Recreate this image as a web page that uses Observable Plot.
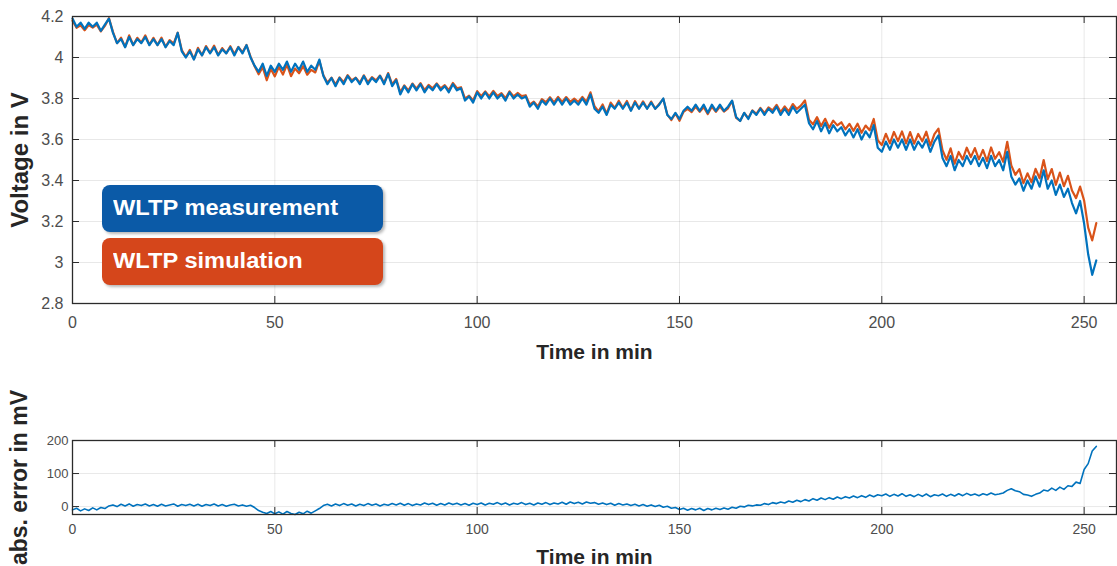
<!DOCTYPE html>
<html>
<head>
<meta charset="utf-8">
<script src="https://cdn.jsdelivr.net/npm/d3@7"></script>
<script src="https://cdn.jsdelivr.net/npm/@observablehq/plot@0.6"></script>
<style>
  html, body { margin: 0; padding: 0; background: #fff; }
  #wrap { position: relative; width: 1117px; height: 566px; overflow: hidden; font-family: "Liberation Sans", Arial, sans-serif; }
  #wrap svg { display: block; overflow: visible; }
  g[aria-label="x-axis label"] text, g[aria-label="y-axis label"] text { font-weight: bold; fill: #262626; }
  .leg { position: absolute; left: 102px; width: 281px; border-radius: 8px; color: #fff; font-weight: bold; font-size: 21.5px; box-sizing: border-box; padding-left: 11px; box-shadow: 2px 2px 3px rgba(0,0,0,0.28); }
  .leg span { display: inline-block; transform: scaleX(1.1); transform-origin: left center; }
</style>
</head>
<body>
<div id="wrap">
  <div id="chartTop"></div>
  <div id="chartBottom"></div>
  <div class="leg" style="top:185px;height:47px;line-height:47px;background:#0b5aa7;"><span>WLTP measurement</span></div>
  <div class="leg" style="top:238px;height:47px;line-height:47px;background:#d5461b;"><span>WLTP simulation</span></div>
</div>
<script>
// Time in min
const time = [
  0,1,2,3,4,5,6,7,8,9,10,11,12,13,14,15,16,17,18,19,
  20,21,22,23,24,25,26,27,28,29,30,31,32,33,34,35,36,37,38,39,
  40,41,42,43,44,45,46,47,48,49,50,51,52,53,54,55,56,57,58,59,
  60,61,62,63,64,65,66,67,68,69,70,71,72,73,74,75,76,77,78,79,
  80,81,82,83,84,85,86,87,88,89,90,91,92,93,94,95,96,97,98,99,
  100,101,102,103,104,105,106,107,108,109,110,111,112,113,114,115,116,117,118,119,
  120,121,122,123,124,125,126,127,128,129,130,131,132,133,134,135,136,137,138,139,
  140,141,142,143,144,145,146,147,148,149,150,151,152,153,154,155,156,157,158,159,
  160,161,162,163,164,165,166,167,168,169,170,171,172,173,174,175,176,177,178,179,
  180,181,182,183,184,185,186,187,188,189,190,191,192,193,194,195,196,197,198,199,
  200,201,202,203,204,205,206,207,208,209,210,211,212,213,214,215,216,217,218,219,
  220,221,222,223,224,225,226,227,228,229,230,231,232,233,234,235,236,237,238,239,
  240,241,242,243,244,245,246,247,248,249,250,251,252,253
];
// WLTP measurement, voltage in V
const measurement = [
  4.19,4.15,4.17,4.14,4.17,4.15,4.17,4.13,4.16,4.19,
  4.12,4.07,4.09,4.05,4.10,4.06,4.09,4.07,4.10,4.06,
  4.09,4.06,4.09,4.05,4.08,4.06,4.12,4.03,4.00,4.03,
  3.99,4.04,4.01,4.05,4.02,4.05,4.01,4.04,4.02,4.05,
  4.01,4.05,4.02,4.06,4.00,3.96,3.93,3.97,3.91,3.96,
  3.93,3.97,3.94,3.98,3.93,3.97,3.94,3.98,3.93,3.96,
  3.94,3.99,3.91,3.87,3.90,3.86,3.90,3.87,3.91,3.88,
  3.90,3.87,3.91,3.87,3.90,3.88,3.91,3.87,3.92,3.86,
  3.89,3.82,3.86,3.83,3.87,3.84,3.87,3.83,3.86,3.84,
  3.87,3.84,3.86,3.83,3.87,3.84,3.85,3.79,3.81,3.78,
  3.83,3.80,3.83,3.80,3.83,3.80,3.82,3.79,3.83,3.80,
  3.82,3.80,3.81,3.76,3.78,3.75,3.79,3.77,3.80,3.77,
  3.80,3.77,3.80,3.77,3.79,3.77,3.80,3.77,3.82,3.75,
  3.73,3.76,3.72,3.77,3.75,3.78,3.75,3.78,3.74,3.78,
  3.75,3.78,3.75,3.78,3.75,3.77,3.80,3.72,3.70,3.73,
  3.70,3.74,3.76,3.74,3.77,3.74,3.77,3.73,3.77,3.74,
  3.77,3.74,3.76,3.79,3.71,3.69,3.73,3.70,3.74,3.72,
  3.75,3.72,3.75,3.73,3.76,3.72,3.75,3.72,3.76,3.73,
  3.75,3.77,3.68,3.65,3.69,3.64,3.68,3.63,3.67,3.64,
  3.66,3.62,3.65,3.61,3.65,3.60,3.64,3.61,3.67,3.56,
  3.54,3.59,3.55,3.60,3.56,3.60,3.55,3.60,3.55,3.59,
  3.56,3.60,3.54,3.59,3.62,3.51,3.47,3.52,3.45,3.50,
  3.47,3.52,3.48,3.52,3.47,3.51,3.46,3.52,3.47,3.50,
  3.45,3.54,3.42,3.38,3.41,3.35,3.40,3.36,3.42,3.37,
  3.45,3.36,3.40,3.33,3.38,3.32,3.36,3.29,3.24,3.30,
  3.19,3.04,2.94,3.01
];
// WLTP simulation, voltage in V
const simulation = [
  4.180,4.145,4.157,4.133,4.158,4.146,4.160,4.127,4.154,4.192,
  4.125,4.070,4.097,4.052,4.108,4.061,4.096,4.073,4.108,4.062,
  4.096,4.061,4.097,4.052,4.085,4.068,4.121,4.036,4.003,4.037,
  3.992,4.047,4.011,4.056,4.023,4.058,4.012,4.046,4.021,4.055,
  4.017,4.052,4.025,4.061,4.004,3.957,3.918,3.953,3.889,3.945,
  3.908,3.954,3.917,3.965,3.909,3.946,3.923,3.958,3.916,3.940,
  3.927,3.984,3.913,3.877,3.902,3.868,3.903,3.879,3.914,3.888,
  3.902,3.877,3.913,3.879,3.904,3.888,3.912,3.877,3.924,3.869,
  3.895,3.830,3.864,3.839,3.873,3.848,3.875,3.841,3.866,3.850,
  3.874,3.849,3.865,3.841,3.876,3.850,3.855,3.799,3.814,3.790,
  3.836,3.811,3.835,3.810,3.837,3.812,3.826,3.801,3.835,3.810,
  3.827,3.812,3.816,3.770,3.785,3.761,3.797,3.782,3.806,3.781,
  3.808,3.783,3.807,3.784,3.799,3.783,3.808,3.784,3.830,3.762,
  3.737,3.771,3.726,3.780,3.754,3.789,3.755,3.788,3.743,3.787,
  3.752,3.786,3.751,3.785,3.750,3.774,3.798,3.721,3.695,3.727,
  3.691,3.735,3.749,3.734,3.760,3.735,3.758,3.724,3.760,3.735,
  3.761,3.736,3.752,3.788,3.705,3.691,3.729,3.704,3.742,3.725,
  3.754,3.729,3.756,3.742,3.769,3.734,3.761,3.737,3.773,3.749,
  3.765,3.791,3.697,3.674,3.709,3.666,3.701,3.657,3.692,3.669,
  3.684,3.650,3.676,3.642,3.677,3.633,3.668,3.645,3.700,3.596,
  3.573,3.628,3.581,3.637,3.592,3.639,3.581,3.636,3.580,3.627,
  3.591,3.638,3.570,3.626,3.653,3.548,3.501,3.557,3.482,3.539,
  3.503,3.560,3.514,3.558,3.503,3.549,3.495,3.561,3.506,3.538,
  3.491,3.589,3.474,3.428,3.455,3.387,3.435,3.391,3.457,3.411,
  3.500,3.407,3.456,3.379,3.439,3.372,3.423,3.351,3.314,3.370,
  3.302,3.170,3.108,3.192
];
// abs. error in mV
const absError = [
  -10,-5,-13,-7,-12,-4,-10,-3,-6,2,
  5,0,7,2,8,1,6,3,8,2,
  6,1,7,2,5,8,1,6,3,7,
  2,7,1,6,3,8,2,6,1,5,
  7,2,5,1,4,-3,-12,-17,-21,-15,
  -22,-16,-23,-15,-21,-24,-17,-22,-14,-20,
  -13,-6,3,7,2,8,3,9,4,8,
  2,7,3,9,4,8,2,7,4,9,
  5,10,4,9,3,8,5,11,6,10,
  4,9,5,11,6,10,5,9,4,10,
  6,11,5,10,7,12,6,11,5,10,
  7,12,6,10,5,11,7,12,6,11,
  8,13,7,14,9,13,8,14,10,12,
  7,11,6,10,4,9,5,8,3,7,
  2,6,1,5,0,4,-2,1,-5,-3,
  -9,-5,-11,-6,-10,-5,-12,-6,-10,-5,
  -9,-4,-8,-2,-5,1,-1,4,2,5,
  4,9,6,12,9,14,11,17,13,19,
  15,21,17,24,19,26,21,27,22,29,
  24,30,26,32,27,33,28,35,30,36,
  33,38,31,37,32,39,31,36,30,37,
  31,38,30,36,33,38,31,37,32,39,
  33,40,34,38,33,39,35,41,36,38,
  41,49,54,48,45,37,35,31,37,41,
  50,47,56,49,59,52,63,61,74,70,
  112,130,168,182
];
const xTicks = [0, 50, 100, 150, 200, 250];
const voltTicks = [2.8, 3, 3.2, 3.4, 3.6, 3.8, 4, 4.2];
const errTicks = [0, 100, 200];

const rows = time.map((t, i) => ({t, meas: measurement[i], sim: simulation[i], err: absError[i]}));

const W = 1117;
const ML = 72, MR = 1;
const plotW = W - ML - MR;
const font = "'Liberation Sans', Arial, sans-serif";
const frameColor = "#2b2b2b";
const gridStyle = {stroke: "#000", strokeOpacity: 0.09};

function boxTicks(yTicks, plotH) {
  const L = 7;
  return [
    Plot.tickX(xTicks, {x: d => d, insetTop: plotH - L, stroke: frameColor}),
    Plot.tickX(xTicks, {x: d => d, insetBottom: plotH - L, stroke: frameColor}),
    Plot.tickY(yTicks, {y: d => d, insetRight: plotW - L, stroke: frameColor}),
    Plot.tickY(yTicks, {y: d => d, insetLeft: plotW - L, stroke: frameColor})
  ];
}

// Top chart
const topH = 362, topMT = 16, topMB = 59;
const chartTop = Plot.plot({
  width: W, height: topH,
  marginLeft: ML, marginRight: MR, marginTop: topMT, marginBottom: topMB,
  style: {fontFamily: font, color: "#4d4d4d", background: "transparent", overflow: "visible"},
  x: {domain: [0, 258]},
  y: {domain: [2.8, 4.2]},
  marks: [
    Plot.gridX(xTicks, gridStyle),
    Plot.gridY(voltTicks, gridStyle),
    Plot.line(rows, {x: "t", y: "sim", stroke: "#D95319", strokeWidth: 2.2}),
    Plot.line(rows, {x: "t", y: "meas", stroke: "#0072BD", strokeWidth: 2.2}),
    Plot.frame({stroke: frameColor, strokeWidth: 1.3}),
    ...boxTicks(voltTicks, topH - topMT - topMB),
    Plot.axisX(xTicks, {tickSize: 0, tickPadding: 13, fontSize: 16, tickFormat: d => String(d),
      label: "Time in min", labelAnchor: "center", labelOffset: 55, labelArrow: "none"}),
    Plot.axisY(voltTicks, {tickSize: 0, tickPadding: 9, fontSize: 16, tickFormat: d => String(d),
      label: "Voltage in V", labelAnchor: "center", labelOffset: 62, labelArrow: "none"})
  ]
});
document.getElementById("chartTop").appendChild(chartTop);

// Bottom chart
const botH = 204, botMT = 78, botMB = 52;
const chartBottom = Plot.plot({
  width: W, height: botH,
  marginLeft: ML, marginRight: MR, marginTop: botMT, marginBottom: botMB,
  style: {fontFamily: font, color: "#4d4d4d", background: "transparent", overflow: "visible"},
  x: {domain: [0, 258]},
  y: {domain: [-24, 200]},
  marks: [
    Plot.gridX(xTicks, gridStyle),
    Plot.gridY(errTicks, gridStyle),
    Plot.line(rows, {x: "t", y: "err", stroke: "#0072BD", strokeWidth: 1.6}),
    Plot.frame({stroke: frameColor, strokeWidth: 1.3}),
    ...boxTicks(errTicks, botH - botMT - botMB),
    Plot.axisX(xTicks, {tickSize: 0, tickPadding: 10, fontSize: 14, tickFormat: d => String(d),
      label: "Time in min", labelAnchor: "center", labelOffset: 49, labelArrow: "none"}),
    Plot.axisY(errTicks, {tickSize: 0, tickPadding: 4, fontSize: 13, tickFormat: d => String(d),
      label: "abs. error in mV", labelAnchor: "center", labelOffset: 62, labelArrow: "none"})
  ]
});
document.getElementById("chartBottom").appendChild(chartBottom);

document.querySelectorAll('g[aria-label="x-axis label"] text').forEach(t => t.style.fontSize = "21px");
const yLabels = document.querySelectorAll('g[aria-label="y-axis label"] text');
yLabels.forEach((t, i) => t.style.fontSize = i === 0 ? "24px" : "23px");
</script>
</body>
</html>
